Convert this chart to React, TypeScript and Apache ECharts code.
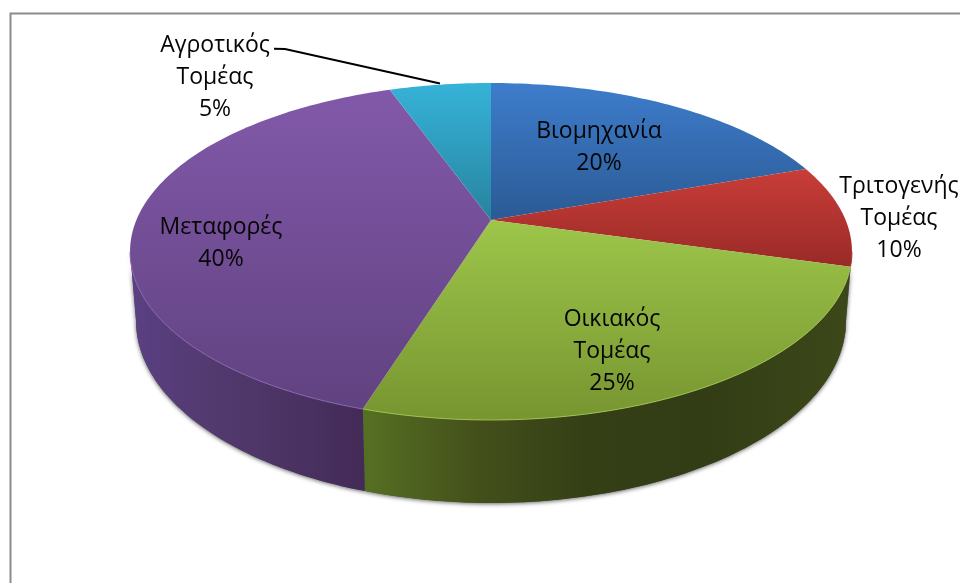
import React, { useEffect, useRef } from "react";
import * as echarts from "echarts";

const categories = ["Βιομηχανία", "Τριτογενής Τομέας", "Οικιακός Τομέας", "Μεταφορές", "Αγροτικός Τομέας"];
const shares = [19.6, 9.8, 25.4, 39.75, 5.45];

// Per-slice styling, kept apart from the values
const topStops = [
  ["#3e7dcc", "#2b5a94"],
  ["#c93d38", "#992a27"],
  ["#9dc64a", "#779530"],
  ["#8259aa", "#614280"],
  ["#36b3d8", "#27839f"],
];
const rimLight = ["#3e7dcc", "#a83a35", "#a3c552", "#8a68b4", "#36b3d8"];
const wallStops: [number, string][][] = [
  [[0, "#1f3a5c"], [1, "#1f3a5c"]],
  [[0, "#4a1a17"], [1, "#3a1512"]],
  [[0, "#567023"], [0.1, "#4e621f"], [0.24, "#434f1a"], [0.46, "#343f16"], [0.7, "#323d16"], [1, "#3c4819"]],
  [[0, "#5a3f82"], [0.3, "#533a70"], [0.6, "#4c3566"], [1, "#432a57"]],
  [[0, "#1b5a6e"], [1, "#1b5a6e"]],
];
const wallSpan = [
  [364, 850],
  [780, 852],
  [364, 850],
  [136, 364],
  [400, 500],
];
// Centre of each label block
const labelAt = [
  [599, 144.5],
  [899, 216],
  [612, 348.5],
  [221, 240.5],
  [215, 74.5],
];

// Perspective projection of the disc's two rims (apex + ellipse through a homography)
const CX = 491;
const TILT = 0.187;
const topRim = { ax: 354.6, by: 162.6, ay: 220 };
const lowRim = { ax: 348.7, by: 175.6, ay: 287 };
const EXTREME = (Math.PI / 180) * 100.8;

const project = (rim: typeof topRim, theta: number): number[] => {
  const x = Math.sin(theta);
  const y = Math.cos(theta);
  const d = 1 + TILT * y;
  return [CX + (rim.ax * x) / d, rim.ay - (rim.by * y) / d];
};
const arc = (rim: typeof topRim, from: number, to: number): number[][] => {
  const n = Math.max(2, Math.ceil(Math.abs(to - from) / 0.02));
  const out: number[][] = [];
  for (let i = 0; i <= n; i++) out.push(project(rim, from + ((to - from) * i) / n));
  return out;
};
const total = shares.reduce((a, b) => a + b, 0);
const bounds = (i: number): number[] => {
  let s = 0;
  for (let k = 0; k < i; k++) s += shares[k];
  return [(s / total) * 2 * Math.PI, ((s + shares[i]) / total) * 2 * Math.PI];
};
const frontClip = (a: number, b: number): number[] | null => {
  const lo = Math.max(a, EXTREME);
  const hi = Math.min(b, 2 * Math.PI - EXTREME);
  return hi > lo ? [lo, hi] : null;
};

const renderShadow = (params: any) => {
  const [a, b] = bounds(params.dataIndex);
  const f = frontClip(a, b);
  if (!f) return { type: "group", children: [] };
  const top = arc(topRim, f[0], f[1]);
  const low = arc(lowRim, f[0], f[1]).reverse();
  return {
    type: "polygon",
    shape: { points: top.concat(low) },
    style: { fill: "#555", shadowColor: "rgba(0,0,0,0.6)", shadowBlur: 4, shadowOffsetX: 0, shadowOffsetY: 1 },
  };
};

const renderSlice = (params: any, api: any) => {
  const i = params.dataIndex;
  const [a, b] = bounds(i);
  const children: any[] = [];
  const f = frontClip(a, b);
  if (f) {
    const top = arc(topRim, f[0], f[1]);
    const low = arc(lowRim, f[0], f[1]).reverse();
    children.push({
      type: "polygon",
      shape: { points: top.concat(low) },
      style: {
        fill: new echarts.graphic.LinearGradient(
          wallSpan[i][0], 0, wallSpan[i][1], 0,
          wallStops[i].map(([offset, color]) => ({ offset, color })),
          true
        ),
      },
    });
  }
  children.push({
    type: "polygon",
    shape: { points: [[CX, topRim.ay], ...arc(topRim, a, b)] },
    style: {
      fill: new echarts.graphic.LinearGradient(0, 0, 0, 1, [
        { offset: 0, color: topStops[i][0] },
        { offset: 1, color: topStops[i][1] },
      ]),
    },
  });
  if (f) {
    children.push({
      type: "polyline",
      shape: { points: arc(topRim, f[0], f[1]) },
      style: { fill: "none", stroke: rimLight[i], lineWidth: 1, opacity: 0.9 },
    });
  }
  const pct = Math.round((api.value(0) / total) * 100);
  children.push({
    type: "text",
    x: labelAt[i][0],
    y: labelAt[i][1],
    style: {
      text: categories[i].split(" ").join("\n") + "\n" + pct + "%",
      align: "center",
      verticalAlign: "middle",
      fill: "#050505",
      fontFamily: "'Open Sans', sans-serif",
      fontSize: 23,
      lineHeight: 32,
    },
  });
  return { type: "group", children };
};

export default function App() {
  const ref = useRef<HTMLDivElement>(null);
  useEffect(() => {
    const chart = echarts.init(ref.current!, undefined, { renderer: "svg" });
    chart.setOption({
      animation: false,
      backgroundColor: "#ffffff",
      tooltip: { show: false },
      graphic: [
        {
          type: "polyline",
          shape: { points: [[10.5, 583], [10.5, 13.5], [960, 13.5]] },
          style: { fill: "none", stroke: "#8c8c8c", lineWidth: 2 },
        },
        {
          type: "polyline",
          shape: { points: [[274, 48.7], [285, 49], [440, 83.5]] },
          style: { fill: "none", stroke: "#000", lineWidth: 2 },
        },
      ],
      series: [
        { type: "custom", coordinateSystem: "none", z: 1, silent: true, data: shares, renderItem: renderShadow },
        { type: "custom", coordinateSystem: "none", z: 2, silent: true, data: shares, renderItem: renderSlice },
      ],
    });
    return () => chart.dispose();
  }, []);
  return (
    <div
      ref={ref}
      style={{ position: "absolute", left: 0, top: 0, width: 960, height: 583, overflow: "hidden", filter: "blur(0.5px)" }}
    />
  );
}
